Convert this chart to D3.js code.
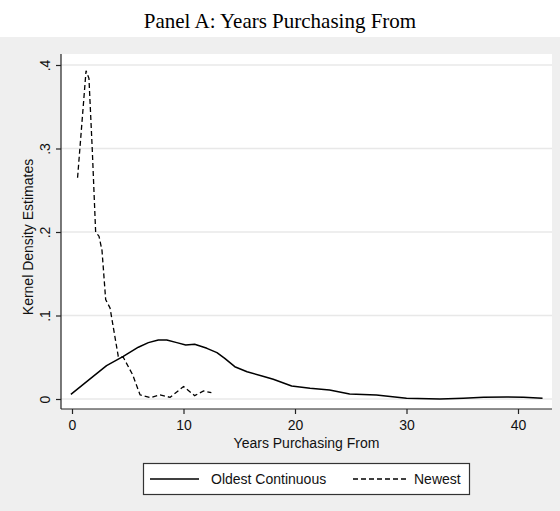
<!DOCTYPE html>
<html>
<head>
<meta charset="utf-8">
<script src="https://cdn.jsdelivr.net/npm/d3@7"></script>
<style>
  html, body { margin: 0; padding: 0; background: #ffffff; }
  svg { display: block; }
</style>
</head>
<body>
<script>
// Kernel density estimates of years purchasing from, two supplier groups.
const oldestX = [-0.1, 1.9, 3.1, 4.6, 5.95, 6.85, 7.74, 8.5, 9.4, 10.2, 11.0, 12.1, 13.0, 13.7, 14.6, 15.7, 17.2, 18.05, 19.7, 21.35, 23.1, 24.9, 27.3, 30.0, 33.0, 35.1, 36.9, 39.0, 40.5, 42.2];
const oldestY = [0.0056, 0.027, 0.040, 0.051, 0.062, 0.0675, 0.0707, 0.0707, 0.0675, 0.0647, 0.0655, 0.0607, 0.0555, 0.0487, 0.0387, 0.0327, 0.0270, 0.0236, 0.0156, 0.0128, 0.0108, 0.0060, 0.0048, 0.0008, 0.0000, 0.0008, 0.0020, 0.0024, 0.0020, 0.0008];

const newestX = [0.5, 1.26, 1.52, 1.82, 2.12, 2.42, 2.69, 3.02, 3.41, 4.15, 4.6, 5.44, 6.1, 7.0, 7.9, 8.8, 10.0, 11.0, 11.8, 12.5];
const newestY = [0.265, 0.393, 0.384, 0.298, 0.200, 0.195, 0.178, 0.119, 0.109, 0.051, 0.050, 0.029, 0.005, 0.0016, 0.005, 0.002, 0.015, 0.004, 0.0096, 0.0076];

const xTicks = [0, 10, 20, 30, 40];
const xTickLabels = ["0", "10", "20", "30", "40"];
const yTicks = [0, 0.1, 0.2, 0.3, 0.4];
const yTickLabels = ["0", ".1", ".2", ".3", ".4"];

const seriesNames = ["Oldest Continuous", "Newest"];

const W = 560, H = 511;
const sans = "'Liberation Sans', Arial, Helvetica, sans-serif";
const serif = "'Liberation Serif', 'Times New Roman', Times, serif";
const fs = "14px";

const svg = d3.select("body").append("svg")
  .attr("width", W).attr("height", H);

// page and outer region
svg.append("rect").attr("x", 0).attr("y", 0).attr("width", W).attr("height", H).attr("fill", "#ffffff");
svg.append("rect").attr("x", 0).attr("y", 37).attr("width", W).attr("height", H - 37).attr("fill", "#efefef");

// plot region
const plot = { left: 61, right: 552, top: 54, bottom: 409 };
svg.append("rect")
  .attr("x", plot.left).attr("y", plot.top)
  .attr("width", plot.right - plot.left).attr("height", plot.bottom - plot.top)
  .attr("fill", "#ffffff");

const x = d3.scaleLinear().domain([0, 40]).range([72, 518]);
const y = d3.scaleLinear().domain([0, 0.4]).range([399, 65]);

// horizontal grid lines
svg.append("g").selectAll("line").data(yTicks).join("line")
  .attr("x1", plot.left).attr("x2", plot.right)
  .attr("y1", d => y(d)).attr("y2", d => y(d))
  .attr("stroke", "#e8e8e8").attr("stroke-width", 1.5);

// y axis
const yAxis = d3.axisLeft(y).tickValues(yTicks)
  .tickFormat((d, i) => yTickLabels[i]).tickSize(5).tickPadding(0);
const gy = svg.append("g").attr("transform", `translate(${plot.left},0)`).call(yAxis);
gy.select(".domain").remove();
gy.append("line").attr("x1", 0).attr("x2", 0).attr("y1", plot.top).attr("y2", plot.bottom)
  .attr("stroke", "#222").attr("stroke-width", 1.2);
gy.selectAll(".tick line").attr("stroke", "#222").attr("stroke-width", 1.2);
gy.selectAll(".tick text")
  .attr("x", null)
  .attr("text-anchor", "middle")
  .attr("transform", "translate(-16,0) rotate(-90)")
  .attr("y", 0)
  .attr("dy", "0.35em")
  .attr("fill", "#111")
  .style("font-family", sans).style("font-size", fs);

// x axis
const xAxis = d3.axisBottom(x).tickValues(xTicks)
  .tickFormat((d, i) => xTickLabels[i]).tickSize(5).tickPadding(6);
const gx = svg.append("g").attr("transform", `translate(0,${plot.bottom})`).call(xAxis);
gx.select(".domain").remove();
gx.append("line").attr("x1", plot.left).attr("x2", plot.right).attr("y1", 0).attr("y2", 0)
  .attr("stroke", "#222").attr("stroke-width", 1.2);
gx.selectAll(".tick line").attr("stroke", "#222").attr("stroke-width", 1.2);
gx.selectAll(".tick text").attr("fill", "#111")
  .style("font-family", sans).style("font-size", fs);

// axis titles
svg.append("text")
  .attr("x", (plot.left + plot.right) / 2).attr("y", 448)
  .attr("text-anchor", "middle").attr("fill", "#111")
  .style("font-family", sans).style("font-size", fs)
  .text("Years Purchasing From");

svg.append("text")
  .attr("transform", `translate(28,237) rotate(-90)`)
  .attr("text-anchor", "middle").attr("dy", "0.35em").attr("fill", "#111")
  .style("font-family", sans).style("font-size", fs)
  .text("Kernel Density Estimates");

// title
svg.append("text")
  .attr("x", W / 2).attr("y", 28)
  .attr("text-anchor", "middle").attr("fill", "#000")
  .style("font-family", serif).style("font-size", "21px")
  .text("Panel A: Years Purchasing From");

// curves
const line = d3.line().x(d => x(d[0])).y(d => y(d[1]));
const oldest = oldestX.map((v, i) => [v, oldestY[i]]);
const newest = newestX.map((v, i) => [v, newestY[i]]);

svg.append("path").datum(oldest).attr("d", line)
  .attr("fill", "none").attr("stroke", "#000").attr("stroke-width", 1.5)
  .attr("stroke-linejoin", "round");
svg.append("path").datum(newest).attr("d", line)
  .attr("fill", "none").attr("stroke", "#000").attr("stroke-width", 1.3)
  .attr("stroke-dasharray", "5,3");

// legend
const lg = svg.append("g");
lg.append("rect").attr("x", 143.5).attr("y", 463.5).attr("width", 326).attr("height", 31)
  .attr("fill", "#ffffff").attr("stroke", "#333").attr("stroke-width", 1.2);
const legendItems = [
  { name: seriesNames[0], x1: 150, x2: 199, tx: 211, dash: null },
  { name: seriesNames[1], x1: 353, x2: 407, tx: 414, dash: "5,3" }
];
legendItems.forEach(it => {
  lg.append("line").attr("x1", it.x1).attr("x2", it.x2).attr("y1", 479).attr("y2", 479)
    .attr("stroke", "#000").attr("stroke-width", it.dash ? 1.3 : 1.5)
    .attr("stroke-dasharray", it.dash);
  lg.append("text").attr("x", it.tx).attr("y", 479).attr("dy", "0.35em")
    .attr("fill", "#111")
    .style("font-family", sans).style("font-size", fs)
    .text(it.name);
});
</script>
</body>
</html>
